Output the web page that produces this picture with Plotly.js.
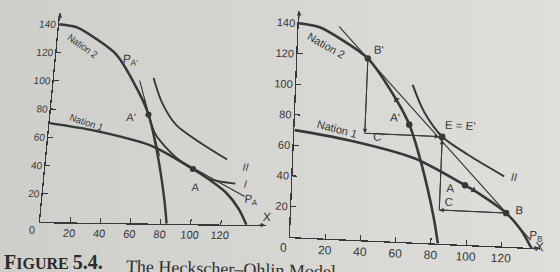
<!DOCTYPE html>
<html>
<head>
<meta charset="utf-8">
<script src="https://cdn.plot.ly/plotly-3.0.1.min.js"></script>
<style>
  html, body { margin: 0; padding: 0; width: 560px; height: 272px; overflow: hidden; }
  body { background: linear-gradient(90deg, #cececb 0%, #d5d5d2 45%, #dededb 100%); position: relative; }
  .panel { position: absolute; top: 0; }
  #caption { left: 0; width: 560px; height: 272px; }
  #left { left: 0; width: 560px; height: 272px; transform-origin: 40px 222px; transform: matrix(1, 0.014, -0.097, 1, 0, 0); }
  #right { left: 262px; width: 298px; height: 272px; transform-origin: 28px 237px; transform: matrix(1, 0.045, -0.041, 1, 0, 0); }
</style>
</head>
<body>
<div id="caption" class="panel"></div>
<div id="left" class="panel"></div>
<div id="right" class="panel"></div>
<script>
// Production possibilities frontiers (commodity X, commodity Y)
const nation1X = [0, 31, 69, 98, 103, 122, 131, 137];
const nation1Y = [70, 65, 55, 39, 36, 22, 11, 0];
const nation2X = [0, 12, 24, 40, 57, 65, 73, 81, 84];
const nation2Y = [140, 138, 131, 119, 93, 77, 51, 17, 0];

// Community indifference curves
const indiffIX = [61, 65, 71, 86, 98, 110, 127];
const indiffIY = [88, 77, 63, 47, 39, 32, 29];
const indiffIIX = [66, 73, 84, 99, 120];
const indiffIIY = [103, 86, 70, 59, 46];

// Relative price lines
const priceAX = [72, 134];
const priceAY = [54, 20];
const priceA2X = [57, 75];
const priceA2Y = [101, 48];
const priceBX = [23, 136.5];
const priceBY = [139, 5];

// Autarky, production and consumption points
const ptA = [98, 39];
const ptA2 = [65, 77];
const ptB = [122, 22];
const ptB2 = [40, 119];
const ptC = [84, 22];
const ptC2 = [40, 70];
const ptE = [84, 70];
// direction markers along the frontiers (A' toward B', A toward B)
const dirN2 = [57, 93];
const dirN1 = [103, 36];

// Axis ticks
const ticksX = [20, 40, 60, 80, 100, 120];
const ticksY = [20, 40, 60, 80, 100, 120, 140];

const FONT = 'Liberation Sans, Arial, Helvetica, sans-serif';
const SERIF = 'Liberation Serif, DejaVu Serif, Times New Roman, serif';
const INK = '#383838';
const CLEAR = 'rgba(0,0,0,0)';
const config = { staticPlot: true, displayModeBar: false };

function curve(xs, ys, w) {
  return { type: 'scatter', mode: 'lines', x: xs, y: ys, hoverinfo: 'skip',
           line: { color: INK, width: w, shape: 'spline', smoothing: 0.8 } };
}
function straight(xs, ys, w) {
  return { type: 'scatter', mode: 'lines', x: xs, y: ys, hoverinfo: 'skip',
           line: { color: INK, width: w } };
}
function dots(pts, size) {
  return { type: 'scatter', mode: 'markers', x: pts.map(p => p[0]), y: pts.map(p => p[1]),
           hoverinfo: 'skip', marker: { color: INK, size: size } };
}
function label(x, y, text, size, angle) {
  return { x: x, y: y, xref: 'x', yref: 'y', text: text, showarrow: false,
           textangle: angle || 0, font: { family: FONT, size: size, color: INK } };
}
// text pinned to a corner of the plotting area and nudged by a pixel offset
function corner(px, py, dx, dy, text, size) {
  return { x: px, y: py, xref: 'paper', yref: 'paper', xshift: dx, yshift: dy,
           text: text, showarrow: false, font: { family: FONT, size: size, color: INK } };
}
function arrow(from, to, standoff) {
  return { x: to[0], y: to[1], ax: from[0], ay: from[1], xref: 'x', yref: 'y',
           axref: 'x', ayref: 'y', text: '', showarrow: true, arrowhead: 2,
           arrowsize: 0.9, arrowwidth: 1, arrowcolor: INK, standoff: standoff || 0 };
}
function axis(range, ticks, size) {
  return { range: range, showline: true, linecolor: INK, linewidth: 1.3, showgrid: false,
           zeroline: false, ticks: 'inside', ticklen: 5, tickwidth: 1.1, tickcolor: INK,
           tickvals: ticks, ticktext: ticks.map(String),
           tickfont: { family: FONT, size: size, color: INK }, fixedrange: true };
}

// ---- Left panel: autarky equilibria A and A' ----
const leftTraces = [
  curve(nation1X, nation1Y, 2.4),
  curve(nation2X, nation2Y, 2.4),
  curve(indiffIX, indiffIY, 1.8),
  curve(indiffIIX, indiffIIY, 1.8),
  straight(priceAX, priceAY, 1.1),
  straight(priceA2X, priceA2Y, 1.1),
  dots([ptA, ptA2], 6)
];
const leftLayout = {
  width: 560, height: 272, margin: { l: 40, r: 294, t: 13, b: 50 },
  paper_bgcolor: CLEAR, plot_bgcolor: CLEAR, showlegend: false,
  xaxis: axis([0, 150], ticksX, 11),
  yaxis: axis([0, 148], ticksY, 10),
  annotations: [
    arrow([0, 142], [0, 148]),
    arrow([144, 0], [149.5, 0]),
    label(17, 125, 'Nation 2', 9.5, 33),
    label(24, 71, 'Nation 1', 9.5, 17),
    label(50, 115.5, 'P<sub>A\'</sub>', 12),
    label(53.6, 75, 'A\'', 11),
    label(100.6, 26.5, 'A', 11),
    label(133, 41, '<i>II</i>', 10.5),
    label(134, 29, '<i>I</i>', 10.5),
    label(139, 17.7, 'P<sub>A</sub>', 11.5),
    corner(1, 0, 6, -1, 'X', 12)
  ]
};

// ---- Right panel: trade equilibrium E = E' ----
const rightTraces = [
  curve(nation1X, nation1Y, 2.6),
  curve(nation2X, nation2Y, 2.6),
  curve(indiffIIX, indiffIIY, 2),
  straight(priceBX, priceBY, 1.2),
  straight([ptB2[0], ptC2[0], ptE[0]], [ptB2[1], ptC2[1], ptE[1]], 1),
  straight([ptB[0], ptC[0], ptE[0]], [ptB[1], ptC[1], ptE[1]], 1),
  dots([ptA, ptA2, ptB, ptB2, ptE], 6.5),
  { type: 'scatter', mode: 'markers', x: [dirN2[0], dirN1[0]], y: [dirN2[1], dirN1[1]],
    hoverinfo: 'skip', marker: { color: INK, size: 6, symbol: 'triangle-up', angle: [-36, 121] } }
];
const rightLayout = {
  width: 298, height: 272, margin: { l: 28, r: 20, t: 11, b: 35 },
  paper_bgcolor: CLEAR, plot_bgcolor: CLEAR, showlegend: false,
  xaxis: axis([0, 142], ticksX, 12),
  yaxis: axis([0, 148], ticksY, 11),
  annotations: [
    arrow([0, 142], [0, 148]),
    arrow([136, 0], [141.5, 0]),
    arrow(ptB2, ptC2),
    arrow(ptC2, ptE, 3),
    arrow(ptB, ptC),
    arrow(ptC, ptE, 3),
    label(16, 126.6, 'Nation 2', 11, 27),
    label(24.3, 71.8, 'Nation 1', 11, 12.5),
    label(45.9, 124.8, 'B\'', 11.5),
    label(57, 80.9, 'A\'', 11.5),
    label(47.8, 68, 'C\'', 11.5),
    label(94.1, 78.2, 'E = E\'', 11.5),
    label(89.9, 36.7, 'A', 11.5),
    label(89.3, 27.7, 'C', 11.5),
    label(129.7, 24.4, 'B', 11.5),
    label(125.3, 45.8, '<i>II</i>', 11),
    label(139.5, 8, 'P<sub>B</sub>', 11.5),
    corner(1, 0, 6, -8, 'X', 13)
  ]
};

// ---- Origin labels and figure caption (page coordinates) ----
const captionLayout = {
  width: 560, height: 272, margin: { l: 0, r: 0, t: 0, b: 0 },
  paper_bgcolor: CLEAR, plot_bgcolor: CLEAR, showlegend: false,
  xaxis: { visible: false, range: [0, 560], fixedrange: true },
  yaxis: { visible: false, range: [272, 0], fixedrange: true },
  annotations: [
    { x: 32, y: 230, xref: 'x', yref: 'y', showarrow: false, text: '0',
      font: { family: FONT, size: 10.5, color: INK } },
    { x: 283, y: 248, xref: 'x', yref: 'y', showarrow: false, text: '0',
      font: { family: FONT, size: 12, color: INK } },
    { x: 2, y: 262, xref: 'x', yref: 'y', xanchor: 'left', showarrow: false,
      text: '<b><span style="font-size:20px">F</span>IGURE <span style="font-size:20px">5.4.</span></b>',
      font: { family: SERIF, size: 16, color: '#2a2a2a' } },
    { x: 124, y: 269, xref: 'x', yref: 'y', xanchor: 'left', showarrow: false, textangle: 1.5,
      text: 'The Heckscher–Ohlin Model',
      font: { family: SERIF, size: 18, color: '#2f2f2f' } }
  ]
};

Plotly.newPlot('caption', [], captionLayout, config);
Plotly.newPlot('left', leftTraces, leftLayout, config);
Plotly.newPlot('right', rightTraces, rightLayout, config);
</script>
</body>
</html>
